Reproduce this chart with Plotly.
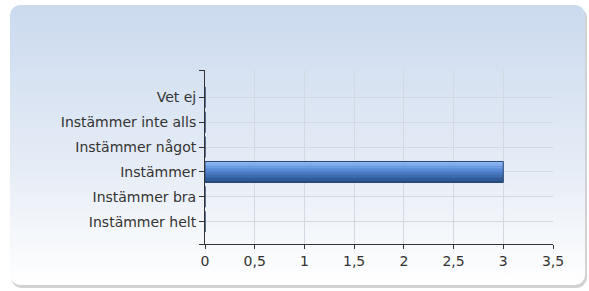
import base64
import plotly.graph_objects as go

# ---- data (top to bottom as shown) ----
categories = ["Vet ej", "Instämmer inte alls", "Instämmer något",
              "Instämmer", "Instämmer bra", "Instämmer helt"]
values = [0, 0, 0, 3, 0, 0]
x_ticks = [0, 0.5, 1, 1.5, 2, 2.5, 3, 3.5]

# plotted bottom-up
cats_bu = categories[::-1]
vals_bu = values[::-1]
pos = list(range(len(cats_bu)))

W, H = 589, 291
ML, MR, MT, MB = 205, 36, 70, 47
PW, PH = W - ML - MR, H - MT - MB

# background panel (rounded, gradient) as svg image
svg = f'''<svg xmlns="http://www.w3.org/2000/svg" width="{W}" height="{H}" viewBox="0 0 {W} {H}">
<defs>
<linearGradient id="g" x1="0" y1="0" x2="0" y2="1">
<stop offset="0" stop-color="#cbdaef"/>
<stop offset="0.55" stop-color="#e4ebf5"/>
<stop offset="1" stop-color="#ffffff"/>
</linearGradient>
</defs>
<rect x="11" y="7" width="576" height="281" rx="11" fill="#d2d2d2"/>
<rect x="10" y="5" width="575" height="280" rx="10" fill="url(#g)"/>
</svg>'''
src = "data:image/svg+xml;base64," + base64.b64encode(svg.encode()).decode()

fig = go.Figure()

bar_w = 0.84
n = 14
top = (0x92, 0xbd, 0xf5)
mid = (0x4f, 0x84, 0xcf)
bot = (0x26, 0x4a, 0x80)


def lerp(a, b, t):
    return tuple(int(round(a[k] + (b[k] - a[k]) * t)) for k in range(3))


for i in range(n):
    t = (i + 0.5) / n  # 0 bottom -> 1 top
    if t < 0.55:
        c = lerp(bot, mid, t / 0.55)
    else:
        c = lerp(mid, top, (t - 0.55) / 0.45)
    fig.add_trace(go.Bar(
        y=pos, x=vals_bu, orientation="h",
        width=bar_w / n, offset=-bar_w / 2 + i * bar_w / n,
        marker=dict(color="rgb(%d,%d,%d)" % c, line=dict(width=0)),
        hoverinfo="skip", showlegend=False,
    ))

fig.add_trace(go.Bar(
    y=pos, x=vals_bu, orientation="h",
    width=bar_w, offset=-bar_w / 2,
    marker=dict(color="rgba(0,0,0,0)", line=dict(width=1, color="#2a4774")),
    showlegend=False,
))

ylo, yhi = -0.9, 6.1
fig.update_layout(
    width=W, height=H,
    margin=dict(l=ML, r=MR, t=MT, b=MB, pad=0),
    barmode="overlay",
    paper_bgcolor="white",
    plot_bgcolor="rgba(0,0,0,0)",
    separators=", ",
    font=dict(family="DejaVu Sans, Verdana, sans-serif", size=14, color="#333333"),
    images=[dict(source=src, xref="paper", yref="paper",
                 x=-ML / PW, y=1 + MT / PH, sizex=W / PW, sizey=H / PH,
                 xanchor="left", yanchor="top", sizing="stretch", layer="below")],
    xaxis=dict(range=[0, 3.5], tickvals=x_ticks, showgrid=True,
               gridcolor="#d3d9e2", gridwidth=1, zeroline=False,
               showline=True, linecolor="#333333", linewidth=1,
               ticks="outside", ticklen=4, tickcolor="#333333",
               tickfont=dict(size=14, color="#333333")),
    yaxis=dict(range=[ylo, yhi], tickvals=[ylo] + pos + [yhi],
               ticktext=[""] + cats_bu + [""],
               showgrid=True, gridcolor="#d3d9e2", gridwidth=1, zeroline=False,
               showline=True, linecolor="#333333", linewidth=1,
               ticks="outside", ticklen=5, tickcolor="#333333",
               tickfont=dict(size=14, color="#333333")),
)

fig.write_html("out.html", config={"displayModeBar": False},
               post_script="document.body.style.margin='0';")
